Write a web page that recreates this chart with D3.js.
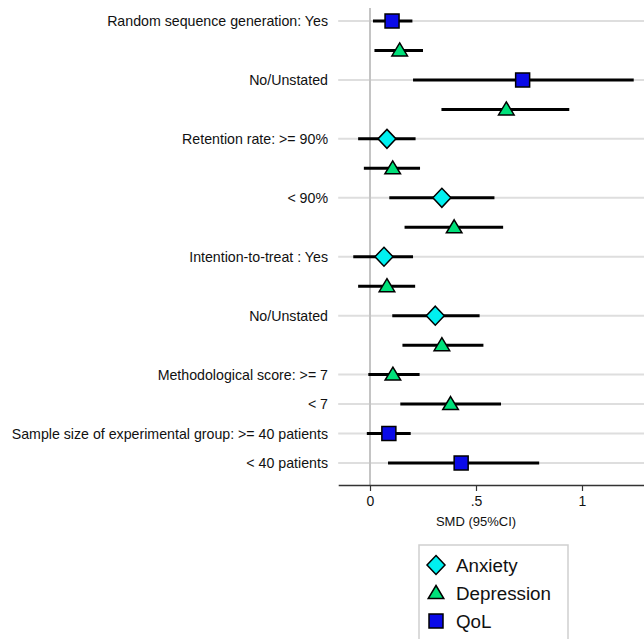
<!DOCTYPE html>
<html>
<head>
<meta charset="utf-8">
<script src="https://cdn.jsdelivr.net/npm/d3@7"></script>
<style>
  body { margin: 0; background: #fff; }
  svg { font-family: "Liberation Sans", Arial, sans-serif; }
</style>
</head>
<body>
<div id="chart"></div>
<script>
// subgroup rows (blank label = second outcome of the same subgroup)
var rowLabels = ["Random sequence generation: Yes", "", "No/Unstated", "", "Retention rate: >= 90%", "", "< 90%", "",
  "Intention-to-treat : Yes", "", "No/Unstated", "", "Methodological score: >= 7", "< 7",
  "Sample size of experimental group: >= 40 patients", "< 40 patients"];
var outcomes = ["QoL", "Depression", "QoL", "Depression", "Anxiety", "Depression", "Anxiety", "Depression",
  "Anxiety", "Depression", "Anxiety", "Depression", "Depression", "Depression", "QoL", "QoL"];
var smd   = [0.104, 0.14, 0.72, 0.643, 0.08, 0.107, 0.339, 0.397, 0.066, 0.08, 0.308, 0.339, 0.108, 0.38, 0.089, 0.43];
var lower = [0.014, 0.021, 0.203, 0.337, -0.056, -0.029, 0.091, 0.163, -0.079, -0.056, 0.105, 0.153, -0.008, 0.143, -0.015, 0.085];
var upper = [0.2, 0.25, 1.244, 0.94, 0.215, 0.236, 0.587, 0.628, 0.203, 0.213, 0.517, 0.535, 0.234, 0.618, 0.192, 0.798];
var legendNames = ["Anxiety", "Depression", "QoL"];
var tickValues = [0, 0.5, 1];
var tickLabels = ["0", ".5", "1"];

var width = 644, height = 639;
var svg = d3.select("#chart").append("svg")
  .attr("width", width).attr("height", height);

var x = d3.scaleLinear().domain([0, 1]).range([370, 582]);
var xLo = -0.15, xHi = 1.3;
var y = d3.scalePoint().domain(d3.range(rowLabels.length)).range([21, 463]);
var axisY = 485;

var colors = { Anxiety: "#00f0f0", Depression: "#00e07a", QoL: "#0a0ae8" };

function shape(name) {
  if (name === "Anxiety") return "M0,-9.5L9,0L0,9.5L-9,0Z";
  if (name === "Depression") return "M0,-7.5L7.8,5.5L-7.8,5.5Z";
  return "M-7,-7L7,-7L7,7L-7,7Z";
}

var rows = rowLabels.map(function (l, i) {
  return { label: l, outcome: outcomes[i], smd: smd[i], lo: lower[i], hi: upper[i], i: i };
});

// gridlines on labelled rows
svg.selectAll(".grid")
  .data(rows.filter(function (d) { return d.label !== ""; }))
  .enter().append("line")
  .attr("x1", x(xLo)).attr("x2", width)
  .attr("y1", function (d) { return y(d.i); })
  .attr("y2", function (d) { return y(d.i); })
  .style("stroke", "#dedede").style("stroke-width", 2);

// zero line
svg.append("line")
  .attr("x1", x(0)).attr("x2", x(0))
  .attr("y1", 8).attr("y2", axisY)
  .style("stroke", "#c4c4c4").style("stroke-width", 2);

// row labels
svg.selectAll(".lab")
  .data(rows.filter(function (d) { return d.label !== ""; }))
  .enter().append("text")
  .attr("x", 328)
  .attr("y", function (d) { return y(d.i); })
  .attr("dy", "0.35em")
  .style("text-anchor", "end")
  .style("font-size", "14.2px")
  .style("fill", "#111")
  .text(function (d) { return d.label; });

// CI lines
svg.selectAll(".ci")
  .data(rows)
  .enter().append("line")
  .attr("x1", function (d) { return x(d.lo); })
  .attr("x2", function (d) { return x(d.hi); })
  .attr("y1", function (d) { return y(d.i); })
  .attr("y2", function (d) { return y(d.i); })
  .style("stroke", "#000").style("stroke-width", 3);

// markers
svg.selectAll(".pt")
  .data(rows)
  .enter().append("path")
  .attr("transform", function (d) { return "translate(" + x(d.smd) + "," + y(d.i) + ")"; })
  .attr("d", function (d) { return shape(d.outcome); })
  .style("fill", function (d) { return colors[d.outcome]; })
  .style("stroke", "#000").style("stroke-width", 1.5);

// x axis
var axis = svg.append("g")
  .attr("transform", "translate(0," + axisY + ")")
  .call(d3.axisBottom(x.copy().domain([xLo, xHi]).range([x(xLo), x(xHi)]))
    .tickValues(tickValues)
    .tickFormat(function (d, i) { return tickLabels[i]; })
    .tickSizeInner(6).tickSizeOuter(0));
axis.select(".domain").style("stroke", "#333").style("stroke-width", 1.5);
axis.selectAll(".tick line").style("stroke", "#333").style("stroke-width", 1.2);
axis.selectAll(".tick text")
  .style("font-size", "14px").style("fill", "#111")
  .style("font-family", "'Liberation Sans', Arial, sans-serif")
  .attr("y", 11);

svg.append("text")
  .attr("x", x(0.5)).attr("y", 526)
  .style("text-anchor", "middle")
  .style("font-size", "13px").style("fill", "#111")
  .text("SMD (95%CI)");

// legend
var lg = svg.append("g");
lg.append("rect")
  .attr("x", 419).attr("y", 545).attr("width", 149).attr("height", 110)
  .style("fill", "#fff").style("stroke", "#cfcfcf").style("stroke-width", 1.5);
var items = lg.selectAll(".item")
  .data(legendNames)
  .enter().append("g")
  .attr("transform", function (d, i) { return "translate(436," + (565 + i * 28) + ")"; });
items.append("path")
  .attr("d", function (d) { return shape(d); })
  .style("fill", function (d) { return colors[d]; })
  .style("stroke", "#000").style("stroke-width", 1.5);
items.append("text")
  .attr("x", 20).attr("dy", "0.36em")
  .style("font-size", "18.8px").style("fill", "#111")
  .text(function (d) { return d; });
</script>
</body>
</html>
